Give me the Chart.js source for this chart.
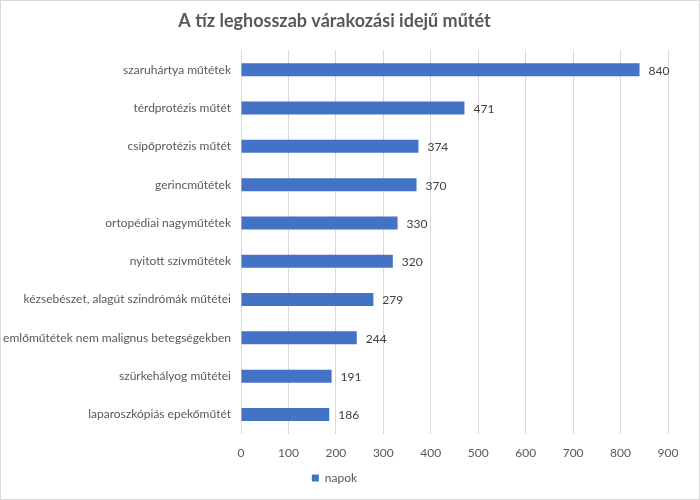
<!DOCTYPE html>
<html>
<head>
<meta charset="utf-8">
<script src="https://cdn.jsdelivr.net/npm/chart.js@4"></script>
<style>
  html, body { margin: 0; padding: 0; background: #fff; }
  #wrap { width: 700px; height: 500px; position: relative; box-sizing: border-box; border: 1px solid #d9d9d9; }
</style>
</head>
<body>
<div id="wrap"><canvas id="chart"></canvas></div>
<script>
// categories, top to bottom
const categories = [
  'szaruhártya műtétek',
  'térdprotézis műtét',
  'csípőprotézis műtét',
  'gerincműtétek',
  'ortopédiai nagyműtétek',
  'nyitott szívműtétek',
  'kézsebészet, alagút szindrómák műtétei',
  'emlőműtétek nem malignus betegségekben',
  'szürkehályog műtétei',
  'laparoszkópiás epekőműtét'
];
const napok = [840, 471, 374, 370, 330, 320, 279, 244, 191, 186];
const xTicks = [0, 100, 200, 300, 400, 500, 600, 700, 800, 900];

const FONT = "Lato, 'Open Sans', sans-serif";
const GREY = '#595959';

// value labels right of each bar
const valueLabels = {
  id: 'valueLabels',
  afterDatasetsDraw(chart) {
    const c = chart.ctx;
    c.save();
    c.font = '12px ' + FONT;
    c.fillStyle = '#404040';
    c.textBaseline = 'middle';
    chart.getDatasetMeta(0).data.forEach((bar, i) => {
      c.fillText(String(napok[i]), bar.x + 9, bar.y + 1);
    });
    c.restore();
  }
};

new Chart(document.getElementById('chart'), {
  type: 'bar',
  data: {
    labels: categories,
    datasets: [{
      label: 'napok',
      data: napok,
      backgroundColor: '#4472C4',
      borderWidth: 0,
      categoryPercentage: 1,
      barPercentage: 0.34
    }]
  },
  options: {
    indexAxis: 'y',
    responsive: true,
    maintainAspectRatio: false,
    animation: false,
    layout: { padding: { left: 0, right: 31, top: 0, bottom: 5 } },
    plugins: {
      title: {
        display: true,
        text: 'A tíz leghosszab várakozási idejű műtét',
        color: GREY,
        font: { family: FONT, size: 18, weight: 'bold' },
        padding: { top: 9, bottom: 19 }
      },
      legend: {
        position: 'bottom',
        labels: {
          color: GREY,
          font: { family: FONT, size: 12 },
          boxWidth: 7,
          boxHeight: 7,
          padding: 2
        }
      },
      tooltip: { enabled: false }
    },
    scales: {
      x: {
        min: 0,
        max: 900,
        afterBuildTicks: (axis) => { axis.ticks = xTicks.map(v => ({ value: v })); },
        afterFit: (axis) => { axis.height -= 2; },
        grid: { color: '#d9d9d9', drawTicks: false },
        border: { display: false },
        ticks: { color: GREY, font: { family: FONT, size: 12 }, padding: 12 }
      },
      y: {
        grid: { display: false, drawTicks: false },
        border: { display: false },
        ticks: { color: GREY, font: { family: FONT, size: 12 }, padding: 10 },
        afterFit: (axis) => { axis.width = 240; }
      }
    }
  },
  plugins: [valueLabels]
});
</script>
</body>
</html>
